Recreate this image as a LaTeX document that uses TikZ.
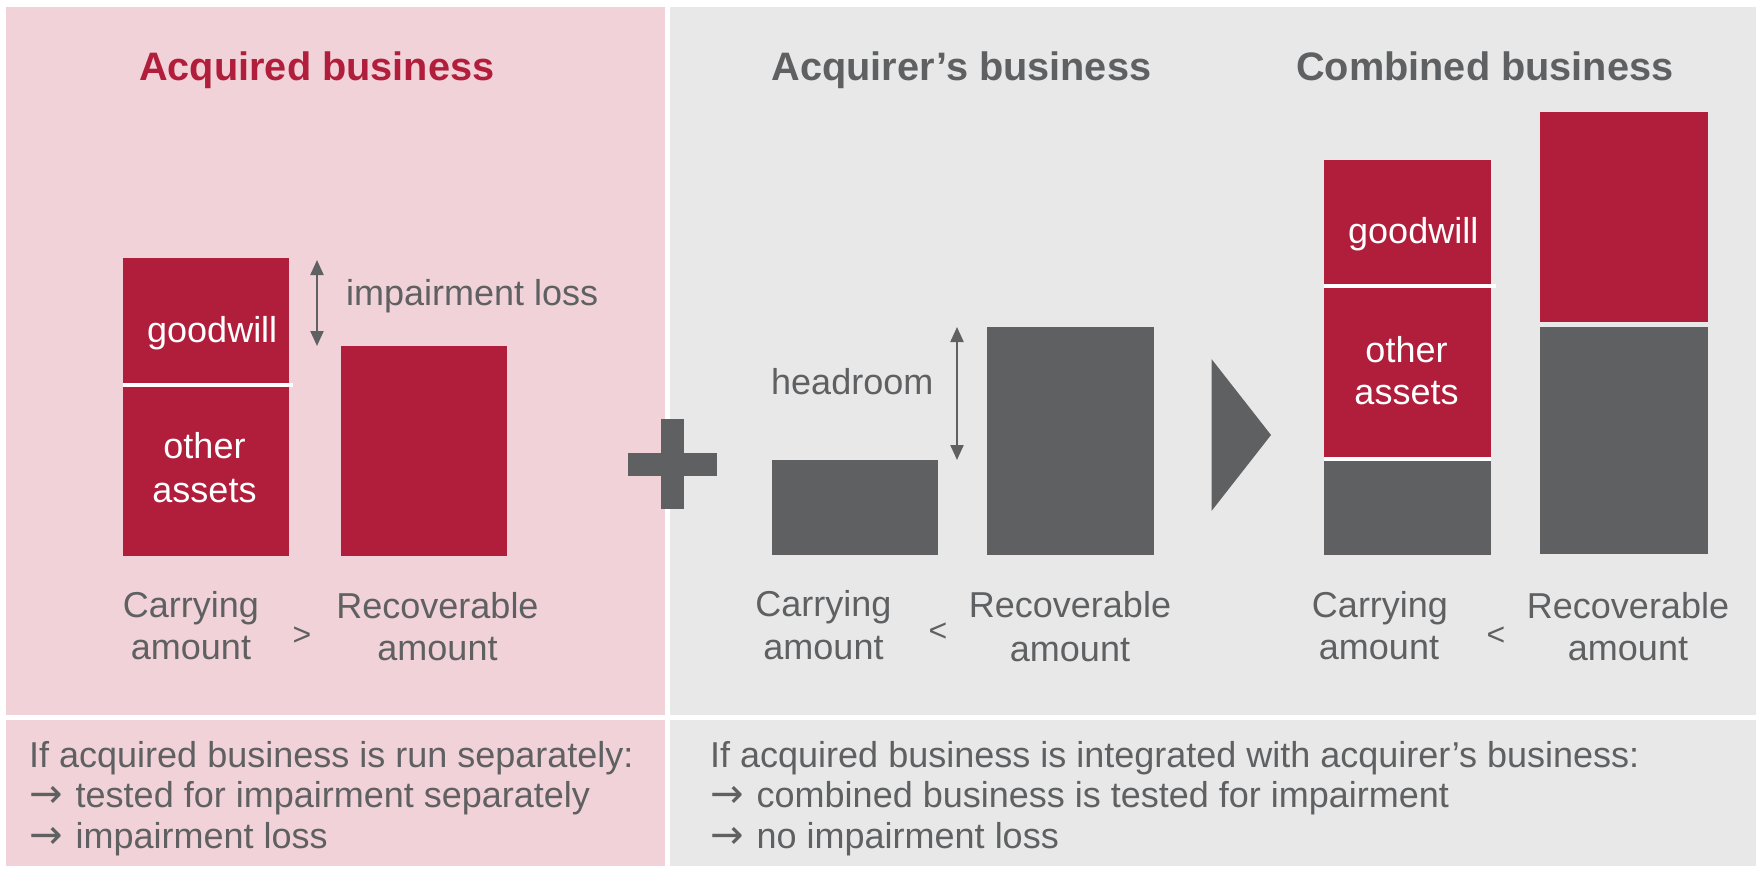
\documentclass[tikz,border=0pt]{standalone}
\usepackage{fontspec}
\setmainfont{Liberation Sans}
\newfontfamily\arrfont{DejaVu Sans}
\newcommand{\rarr}{{\arrfont\fontsize{40}{40}\selectfont →}\kern3pt}
\usetikzlibrary{arrows.meta}
\definecolor{kred}{HTML}{B11E3B}
\definecolor{kgray}{HTML}{5F6062}
\definecolor{kpink}{HTML}{F1D2D8}
\definecolor{klight}{HTML}{E8E8E8}
\tikzset{
  lbl/.style={font=\fontsize{36}{40}\selectfont, text=kgray, inner sep=0pt},
  wlbl/.style={lbl, text=white},
  cmp/.style={font=\fontsize{32}{36}\selectfont, text=kgray, inner sep=0pt, anchor=base},
  ttl/.style={font=\fontsize{39.7}{46}\selectfont\bfseries, inner sep=0pt, anchor=base west},
  redbox/.style={fill=kred, draw=none},
  graybox/.style={fill=kgray, draw=none},
  sepline/.style={draw=white, line width=3.5pt},
  dimarrow/.style={draw=kgray, line width=2.2pt, {Triangle[width=13pt,length=15pt]}-{Triangle[width=13pt,length=15pt]}},
}
\begin{document}
\begin{tikzpicture}[x=1pt, y=-1pt]
\useasboundingbox (0,0) rectangle (1762,870);
\fill[white] (0,0) rectangle (1762,870);
% panels
\fill[kpink] (6,7) rectangle (665,715);
\fill[klight] (670,7) rectangle (1756,715);
\fill[kpink] (6,720) rectangle (665,866);
\fill[klight] (670,720) rectangle (1756,866);

% titles
\node[ttl, text=kred] (t1) at (139,80) {Acquired business};
\node[ttl, text=kgray] (t2) at (771.5,80) {Acquirer’s business};
\node[ttl, text=kgray] (t3) at (1296,80) {Combined business};

% ---- acquired business ----
\fill[redbox] (123,258) rectangle (289,385);
\fill[redbox] (123,385) rectangle (289,556);
\draw[sepline] (123,385) -- (293,385);
\fill[redbox] (341,346) rectangle (507,556);
\coordinate (ilTop) at (317,260);
\coordinate (ilBot) at (317,346);
\draw[dimarrow] (ilTop) -- (ilBot);
\node[lbl, anchor=base west] (il) at (346,305) {impairment loss};
\node[wlbl, anchor=base west] (gw1) at (147,342) {goodwill};
\node[wlbl, anchor=base] (oa1a) at (204.5,458) {other};
\node[wlbl, anchor=base] (oa1b) at (204.5,502) {assets};
\node[lbl, anchor=base] (ca1a) at (191,617) {Carrying};
\node[lbl, anchor=base] (ca1b) at (191,659) {amount};
\node[cmp] (gt1) at (302,645) {>};
\node[lbl, anchor=base] (ra1a) at (437.5,618) {Recoverable};
\node[lbl, anchor=base] (ra1b) at (437.5,660) {amount};

% plus
\fill[kgray] (628,452.5) rectangle (717,475.5);
\fill[kgray] (661,419) rectangle (684,509);

% ---- acquirer's business ----
\fill[graybox] (772,460) rectangle (938,555);
\fill[graybox] (987,327) rectangle (1154,555);
\coordinate (hrTop) at (957,327);
\coordinate (hrBot) at (957,460);
\draw[dimarrow] (hrTop) -- (hrBot);
\node[lbl, anchor=base west] (hr) at (771,394) {headroom};
\node[lbl, anchor=base] (ca2a) at (823.5,616) {Carrying};
\node[lbl, anchor=base] (ca2b) at (823.5,659) {amount};
\node[cmp] (lt2) at (938,641.5) {<};
\node[lbl, anchor=base] (ra2a) at (1070,617) {Recoverable};
\node[lbl, anchor=base] (ra2b) at (1070,661) {amount};

% triangle
\fill[kgray] (1211.5,359) -- (1271,435) -- (1211.5,511) -- cycle;

% ---- combined business ----
\fill[redbox] (1324,160) rectangle (1491,286);
\fill[redbox] (1324,286) rectangle (1491,459);
\fill[graybox] (1324,459) rectangle (1491,555);
\draw[sepline] (1324,286) -- (1496,286);
\draw[sepline] (1324,459) -- (1491,459);
\fill[redbox] (1540,112) rectangle (1708,324);
\fill[graybox] (1540,324) rectangle (1708,554);
\draw[draw=klight, line width=5pt] (1540,324) -- (1708,324);
\node[wlbl, anchor=base west] (gw3) at (1348,243.5) {goodwill};
\node[wlbl, anchor=base] (oa3a) at (1406.5,362) {other};
\node[wlbl, anchor=base] (oa3b) at (1406.5,404) {assets};
\node[lbl, anchor=base] (ca3a) at (1380,617) {Carrying};
\node[lbl, anchor=base] (ca3b) at (1379,659) {amount};
\node[cmp] (lt3) at (1496,645) {<};
\node[lbl, anchor=base] (ra3a) at (1628,618) {Recoverable};
\node[lbl, anchor=base] (ra3b) at (1628,660) {amount};

% ---- bottom texts ----
\node[lbl, anchor=base west] (b1a) at (29,767) {If acquired business is run separately:};
\node[lbl, anchor=base west] (b1b) at (29,807.5) {\rarr{} tested for impairment separately};
\node[lbl, anchor=base west] (b1c) at (29,848) {\rarr{} impairment loss};
\node[lbl, anchor=base west] (b2a) at (710,767) {If acquired business is integrated with acquirer’s business:};
\node[lbl, anchor=base west] (b2b) at (710,807.5) {\rarr{} combined business is tested for impairment};
\node[lbl, anchor=base west] (b2c) at (710,848) {\rarr{} no impairment loss};
\end{tikzpicture}
\end{document}
